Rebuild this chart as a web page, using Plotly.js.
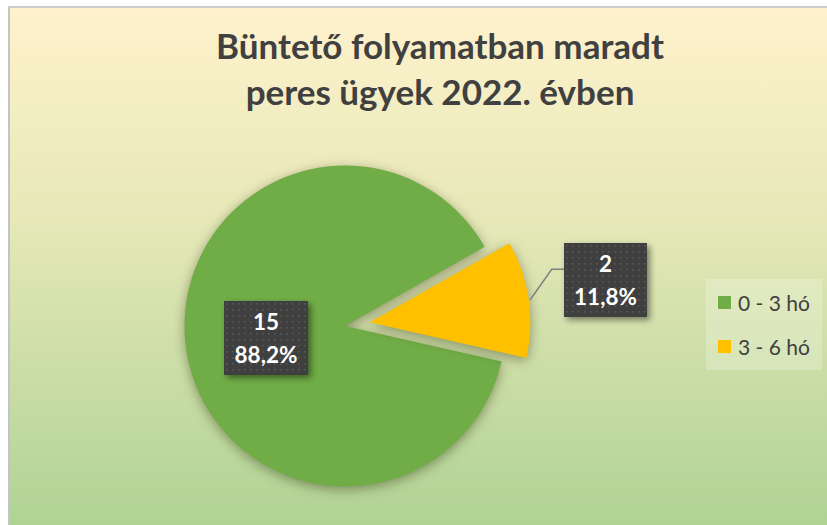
<!DOCTYPE html>
<html>
<head>
<meta charset="utf-8">
<script src="https://cdn.plot.ly/plotly-3.0.1.min.js"></script>
<style>
html,body{margin:0;padding:0;background:#fff;width:827px;height:525px;overflow:hidden;}
#frame{position:absolute;left:8px;top:6px;width:830px;height:530px;border-left:2px solid #c4c4c4;border-top:2px solid #cdcdcd;background:linear-gradient(to bottom,#FFF2CC 0%,#E6E8B8 40%,#ADD292 100%);}
#chart{position:absolute;left:0;top:0;width:827px;height:525px;}
#chart .pielayer path.surface{filter:drop-shadow(0px 3px 6px rgba(50,50,20,0.45));}
</style>
</head>
<body>
<svg width="0" height="0" style="position:absolute">
<defs>
<pattern id="dots" x="0" y="0" width="6" height="6" patternUnits="userSpaceOnUse">
<rect width="6" height="6" fill="#3f3f3f"/>
<rect x="2" y="2" width="1.6" height="1.6" fill="#575757"/>
</pattern>
</defs>
</svg>
<div id="frame"></div>
<div id="chart"></div>
<script>
// ---- data ----
const labels = ['0 - 3 hó', '3 - 6 hó'];
const values = [15, 2];
const colors = ['#70AD47', '#FFC000'];
const titleLines = ['Büntető folyamatban maradt', 'peres ügyek 2022. évben'];

// ---- helpers (pixel -> paper, margins are zero) ----
const W = 827, H = 525;
const px = x => x / W;
const py = y => 1 - y / H;

const total = values.reduce((a, b) => a + b, 0);
const pctText = v => (v / total * 100).toFixed(1).replace('.', ',') + '%';

const trace = {
  type: 'pie',
  labels: labels,
  values: values,
  marker: {colors: colors, line: {width: 0}},
  sort: false,
  direction: 'clockwise',
  rotation: 102.8,
  pull: [0, 0.156],
  textinfo: 'none',
  hoverinfo: 'skip',
  showlegend: false,
  domain: {x: [px(159.4), px(530.6)], y: [py(511.6), py(140.4)]}
};

// data label boxes
const labelBoxes = [
  {cx: 266, cy: 338, w: 84, h: 74},
  {cx: 605.5, cy: 280, w: 83, h: 74}
];
const annotations = [];
labels.forEach((l, i) => {
  const b = labelBoxes[i];
  annotations.push({
    xref: 'paper', yref: 'paper', x: px(b.cx), y: py(b.cy),
    xanchor: 'center', yanchor: 'middle', showarrow: false,
    width: b.w, height: b.h, borderpad: 0, borderwidth: 0,
    bgcolor: '#404040',
    text: '<b><span style="font-size:22.5px">' + values[i] + '</span></b><br><b><span style="font-size:22.5px">' + pctText(values[i]) + '</span></b>',
    font: {family: 'Lato', size: 25, color: '#ffffff'}
  });
});

// legend (manual, built from labels/colors)
const legendRows = [302.5, 346.5];
const shapes = [
  {type: 'rect', xref: 'paper', yref: 'paper', x0: px(706), x1: px(822), y0: py(370), y1: py(279),
   fillcolor: 'rgba(255,255,255,0.22)', line: {width: 0}, layer: 'below'},
  {type: 'path', xref: 'paper', yref: 'paper',
   path: 'M' + px(530) + ',' + py(300) + ' L' + px(551.7) + ',' + py(269.3) + ' L' + px(564) + ',' + py(269.3),
   line: {color: '#808080', width: 1.5}}
];
labels.forEach((l, i) => {
  const cy = legendRows[i];
  shapes.push({type: 'rect', xref: 'paper', yref: 'paper', x0: px(718), x1: px(731), y0: py(cy + 6.5), y1: py(cy - 6.5),
    fillcolor: colors[i], line: {width: 0}});
  annotations.push({
    xref: 'paper', yref: 'paper', x: px(736), y: py(cy), xanchor: 'left', yanchor: 'middle',
    showarrow: false, text: l, font: {family: 'Lato', size: 21, color: '#404040'}
  });
});

const layout = {
  width: W, height: H,
  margin: {l: 0, r: 0, t: 0, b: 0, pad: 0},
  paper_bgcolor: 'rgba(0,0,0,0)',
  plot_bgcolor: 'rgba(0,0,0,0)',
  showlegend: false,
  title: {
    text: titleLines.map(t => '<span style="font-size:35px">' + t + '</span>').join('<br>'),
    font: {family: 'Lato', size: 35.4, color: '#404040', weight: 700},
    x: px(440), xref: 'paper', xanchor: 'center',
    y: py(59), yref: 'container', yanchor: 'middle'
  },
  annotations: annotations,
  shapes: shapes
};

Plotly.newPlot('chart', [trace], layout, {displayModeBar: false, staticPlot: true}).then(() => {
  document.querySelectorAll('#chart g.annotation').forEach(g => {
    const idx = +g.getAttribute('data-index');
    if (idx < labels.length) {
      const r = g.querySelector('rect.bg');
      if (r) {
        r.style.fill = 'url(#dots)';
        r.style.filter = 'drop-shadow(3px 3px 3px rgba(0,0,0,0.45))';
      }
    }
  });
});
</script>
</body>
</html>
